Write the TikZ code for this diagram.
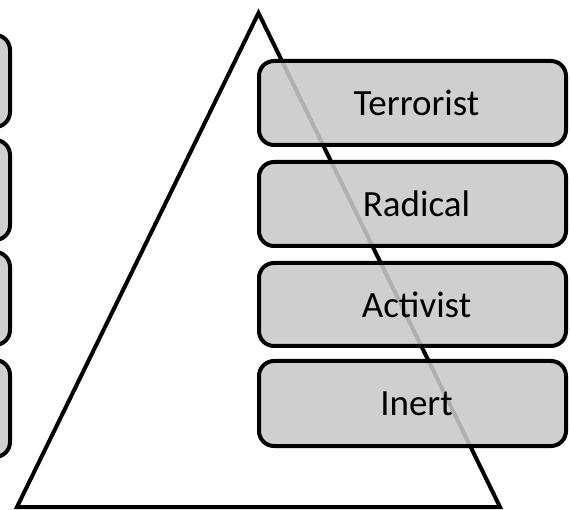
\documentclass[tikz,border=0pt]{standalone}
\usepackage{fontspec}
\setmainfont{Carlito}
\definecolor{boxgray}{RGB}{201,201,201}
\newcommand{\shiftedlabel}[1]{\hspace*{8pt}#1}
\begin{document}
\begin{tikzpicture}[x=1pt,y=-1pt,
  boxstyle/.style={draw=black, line width=4pt, rounded corners=15pt,
    fill=boxgray, fill opacity=0.875, text opacity=1, rectangle,
    inner sep=0pt, font=\fontsize{37}{42}\selectfont},
  tri/.style={draw=black, line width=4pt, line join=miter}]
\useasboundingbox[fill=white] (0,0) rectangle (570,510);
\clip (0,0) rectangle (570,510);
\coordinate (apex) at (258.5,13);
\coordinate (bl) at (17,507);
\coordinate (br) at (500,507);
\draw[tri] (apex) -- (bl) -- (br) -- cycle;
% right boxes
\node[boxstyle, minimum width=307pt, minimum height=84pt] (terrorist) at (412.5,103) {\shiftedlabel{Terrorist}};
\node[boxstyle, minimum width=307pt, minimum height=84pt] (radical) at (412.5,204) {\shiftedlabel{Radical}};
\node[boxstyle, minimum width=307pt, minimum height=83pt] (activist) at (412.5,304.5) {\shiftedlabel{Activist}};
\node[boxstyle, minimum width=307pt, minimum height=85pt] (inert) at (412.5,403.5) {\shiftedlabel{Inert}};
% left boxes (mostly outside the picture)
\node[boxstyle, minimum width=307pt, minimum height=92pt] (l1) at (-143.5,81) {};
\node[boxstyle, minimum width=307pt, minimum height=100pt] (l2) at (-143.5,190) {};
\node[boxstyle, minimum width=307pt, minimum height=93pt] (l3) at (-143.5,298.5) {};
\node[boxstyle, minimum width=307pt, minimum height=97pt] (l4) at (-143.5,408.5) {};
\end{tikzpicture}
\end{document}
